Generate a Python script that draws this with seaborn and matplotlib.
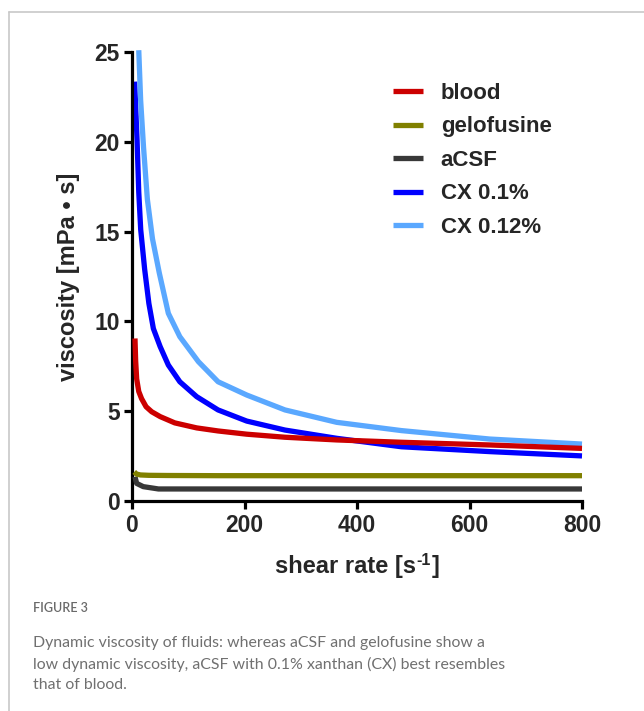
import numpy as np
import pandas as pd
import matplotlib
matplotlib.use("Agg")
import matplotlib.pyplot as plt
import seaborn as sns
from matplotlib.lines import Line2D

# ---- data ----
blood_x = [5.3, 6.5, 8.3, 12, 17, 25, 35, 50, 76, 115, 153, 204, 272, 364, 479, 636, 800]
blood_y = [9.05, 7.8, 6.8, 6.1, 5.7, 5.25, 4.97, 4.7, 4.35, 4.07, 3.9, 3.72, 3.55, 3.4, 3.27, 3.12, 2.93]

gelo_x = [4, 8, 15, 30, 64, 153, 364, 800]
gelo_y = [1.62, 1.5, 1.45, 1.43, 1.42, 1.41, 1.41, 1.41]

acsf_x = [5.3, 8.3, 20, 47, 100, 272, 800]
acsf_y = [1.35, 0.98, 0.80, 0.67, 0.67, 0.67, 0.67]

cx01_x = [4.7, 9, 12, 15.5, 22.5, 30, 38, 50, 64.6, 85, 115, 153, 204, 272, 364, 479, 636, 800]
cx01_y = [23.35, 20.1, 17.2, 15.1, 12.9, 11.0, 9.6, 8.6, 7.57, 6.64, 5.81, 5.07, 4.45, 3.95, 3.49, 3.02, 2.75, 2.51]

cx012_x = [12, 15.4, 20.5, 27.3, 36.4, 48.5, 64.6, 85, 118, 153, 204, 272, 364, 479, 636, 800]
cx012_y = [25.1, 22.3, 19.7, 16.8, 14.6, 12.7, 10.45, 9.15, 7.76, 6.64, 5.9, 5.07, 4.38, 3.92, 3.45, 3.17]

series_names = ["blood", "gelofusine", "aCSF", "CX 0.1%", "CX 0.12%"]
series_x = [blood_x, gelo_x, acsf_x, cx01_x, cx012_x]
series_y = [blood_y, gelo_y, acsf_y, cx01_y, cx012_y]
colors = ["#cc0000", "#808000", "#383838", "#0000ff", "#5aa8ff"]

x_ticks = [0, 200, 400, 600, 800]
y_ticks = [0, 5, 10, 15, 20, 25]

x_label_main = "shear rate [s"
x_label_sup = "-1"
x_label_end = "]"
y_label = "viscosity [mPa \u2022 s]"

caption_title = "FIGURE 3"
caption_text = ("Dynamic viscosity of fluids: whereas aCSF and gelofusine show a\n"
                "low dynamic viscosity, aCSF with 0.1% xanthan (CX) best resembles\n"
                "that of blood.")

df = pd.concat([pd.DataFrame({"shear": x, "visc": y, "fluid": n})
                for n, x, y in zip(series_names, series_x, series_y)], ignore_index=True)

sns.set_style("ticks")
plt.rcParams["font.family"] = ["Liberation Sans", "DejaVu Sans"]

W, H = 644, 711
fig = plt.figure(figsize=(W / 100, H / 100), dpi=100)
ax = fig.add_axes([132 / W, 1 - 501 / H, 450 / W, 449 / H])

zorders = {"blood": 6, "gelofusine": 4, "aCSF": 3, "CX 0.1%": 2, "CX 0.12%": 5}
pal = dict(zip(series_names, colors))
for name in ["CX 0.1%", "aCSF", "gelofusine", "CX 0.12%", "blood"]:
    sub = df[df["fluid"] == name]
    sns.lineplot(data=sub, x="shear", y="visc", color=pal[name], lw=3.8,
                 ax=ax, zorder=zorders[name], clip_on=False, legend=False,
                 solid_capstyle="butt", estimator=None, sort=False)

ax.set_xlim(0, 800)
ax.set_ylim(0, 25)
ax.set_xticks(x_ticks)
ax.set_yticks(y_ticks)
for s in ["top", "right"]:
    ax.spines[s].set_visible(False)
for s in ["left", "bottom"]:
    ax.spines[s].set_linewidth(2.3)
    ax.spines[s].set_color("black")
ax.tick_params(axis="both", direction="out", length=6, width=2.3, color="black",
               labelsize=16.5, pad=3)
for lab in ax.get_xticklabels() + ax.get_yticklabels():
    lab.set_fontweight("bold")

ax.set_xlabel("")
ax.set_ylabel(y_label, fontsize=17, fontweight="bold", labelpad=10)

# x label assembled from pieces (hyphen superscript as in the reference)
renderer = fig.canvas.get_renderer()
ly = 1 - 566 / H
t1 = fig.text(0, ly, x_label_main, fontsize=17, fontweight="bold", va="center", ha="left")
t2 = fig.text(0, ly, x_label_sup, fontsize=11.5, fontweight="bold", va="bottom", ha="left")
t3 = fig.text(0, ly, x_label_end, fontsize=17, fontweight="bold", va="center", ha="left")
w1 = t1.get_window_extent(renderer).width
w2 = t2.get_window_extent(renderer).width
w3 = t3.get_window_extent(renderer).width
total = w1 + w2 + w3 + 1
x0 = 357 - total / 2
t1.set_x(x0 / W)
t2.set_x((x0 + w1 + 0.5) / W)
t2.set_y(1 - 568 / H)
t3.set_x((x0 + w1 + w2 + 1) / W)

handles = [Line2D([0], [0], color=c, lw=3.8, solid_capstyle="butt") for c in colors]
leg = fig.legend(handles, series_names, loc="upper left",
                 bbox_to_anchor=(393 / W, 1 - 83 / H), frameon=False,
                 prop={"family": ["Liberation Sans"], "weight": "bold", "size": 16},
                 handlelength=1.35, handletextpad=0.8, labelspacing=0.56,
                 borderpad=0, borderaxespad=0)

# card border
fig.add_artist(Line2D([9 / W, 1], [1 - 11.5 / H, 1 - 11.5 / H], color="#c8c8c8", lw=1.2))
fig.add_artist(Line2D([9 / W, 9 / W], [0, 1 - 11.5 / H], color="#c8c8c8", lw=1.2))

fig.text(33 / W, 1 - 608 / H, caption_title, fontsize=9, color="#6a6a6a",
         family=["Lato", "DejaVu Sans"], fontweight="semibold", va="center", ha="left")
fig.text(33 / W, 1 - 636 / H, caption_text, fontsize=11.4, color="#707070",
         family=["Lato", "DejaVu Sans"], va="top", ha="left", linespacing=1.58)

fig.savefig("out.png", dpi=100)
